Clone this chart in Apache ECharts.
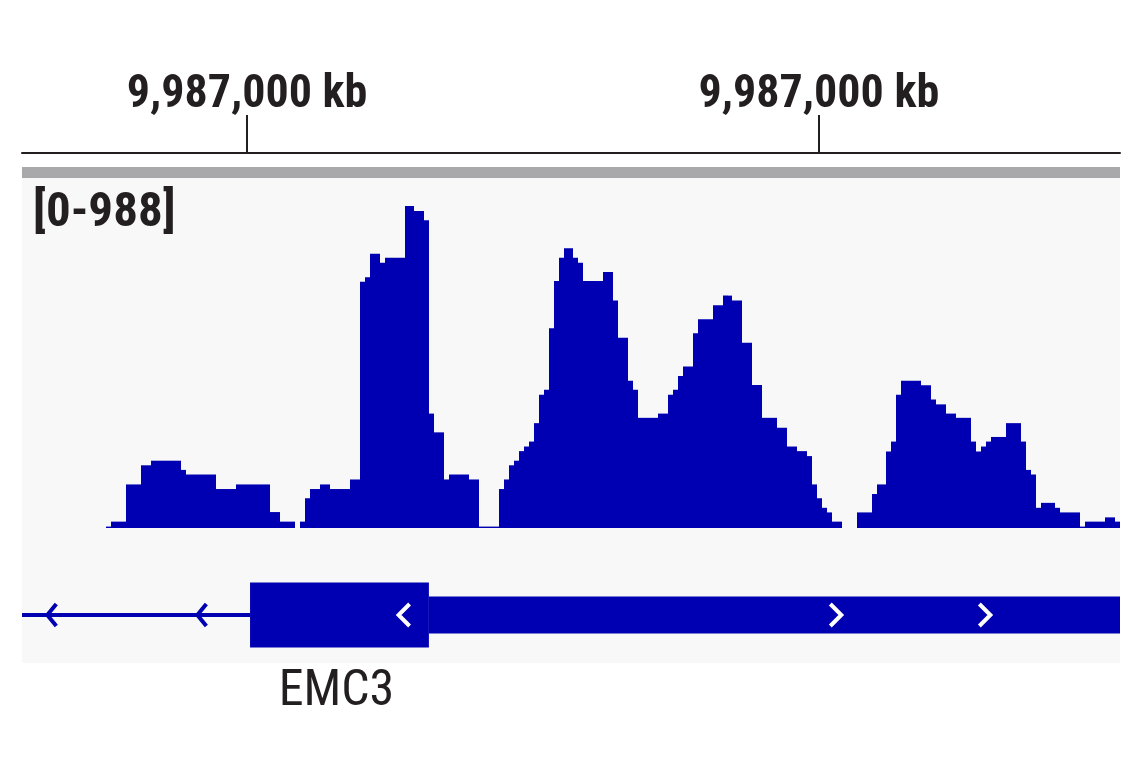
<!DOCTYPE html>
<html>
<head>
<meta charset="utf-8">
<script src="https://cdn.jsdelivr.net/npm/echarts@6/dist/echarts.min.js"></script>
<style>
  html, body { margin: 0; padding: 0; background: #ffffff; }
  #chart { width: 1141px; height: 768px; }
</style>
</head>
<body>
<div id="chart"></div>
<script>
// ---- data ----
// coverage per genomic bin (221 bins across the view), data range 0-988
const yRange = [0, 988];
const binCount = 221;
const coverage = [
  0,0,0,0,0,0,0,0,0,0, 0,0,0,0,0,0,0,4,18,18,
  18,123,123,123,177,177,190,190,190,190, 190,190,164,151,151,151,151,151,151,110,
  110,110,110,123,123,123,123,123,123,123, 45,45,18,18,18,0,18,84,110,110,
  123,123,110,110,110,110,137,137,695,708, 774,774,749,763,763,763,763,909,909,895,
  895,869,323,270,270,137,151,151,151,151, 137,137,4,4,4,4,110,137,177,190,
  217,230,244,296,376,390,564,697,763,790, 790,763,749,697,697,697,697,723,723,642,
  537,537,416,390,311,311,311,311,323,323, 376,390,429,456,456,550,589,589,589,629,
  629,656,656,642,642,523,523,404,404,311, 311,311,283,283,230,230,217,217,203,123,
  84,57,44,18,18,0,0,0,44,44, 44,96,123,123,216,244,376,416,416,416,
  416,403,403,363,349,349,323,323,311,311, 311,244,216,230,244,257,257,257,296,296,
  296,244,164,151,57,71,71,71,57,44, 44,44,44,4,18,18,18,18,30,30,
  18
];
// ruler ticks (bin positions) and their labels
const rulerTicks = [45.3, 160.4];
const rulerLabels = ['9,987,000 kb', '9,987,000 kb'];
// gene model: [start bin, end bin, kind] kind: 0 intron, 1 coding exon, 2 UTR
const geneName = 'EMC3';
const geneSegments = [
  [0, 45.9, 0],
  [45.9, 81.9, 1],
  [81.9, 221, 2]
];
// strand arrows: [bin position, direction (-1 left, 1 right)]
const geneArrows = [
  [6.0, -1], [36.2, -1], [76.9, -1], [163.8, 1], [193.8, 1]
];

// ---- styles ----
const BLUE = '#0000b2';
const TEXT = '#231f20';
const FONT = "'Liberation Sans Narrow', 'Arial Narrow', 'Roboto Condensed', 'DejaVu Sans Condensed', sans-serif";
const L = 22, W = 1098;

const covData = coverage.map((v, i) => [i, v]);

function renderCoverage(params, api) {
  const i = api.value(0), v = api.value(1);
  if (!v) return null;
  const p0 = api.coord([i, v]);
  const p1 = api.coord([i + 1, 0]);
  const x0 = Math.round(p0[0]), x1 = Math.round(p1[0]);
  return {
    type: 'rect',
    shape: { x: x0, y: p0[1], width: x1 - x0, height: p1[1] - p0[1] },
    style: { fill: BLUE }
  };
}

function renderGene(params, api) {
  const s = api.value(0), e = api.value(1), kind = api.value(2);
  const a = api.coord([s, 0.5]);
  const b = api.coord([e, 0.5]);
  const cy = a[1];
  const half = kind === 0 ? 2 : (kind === 1 ? 32.5 : 18.5);
  const children = [{
    type: 'rect',
    shape: { x: a[0], y: cy - half, width: b[0] - a[0], height: half * 2 },
    style: { fill: BLUE }
  }];
  if (kind === 1) {
    children.push({
      type: 'text',
      style: {
        text: geneName, x: (a[0] + b[0]) / 2 - 3, y: cy + 52,
        align: 'center', verticalAlign: 'top',
        fontFamily: FONT, fontSize: 50, fill: TEXT
      }
    });
  }
  return { type: 'group', children: children };
}

function renderArrow(params, api) {
  const pos = api.value(0), dir = api.value(1);
  const seg = geneSegments.find(g => pos >= g[0] && pos < g[1]);
  const onIntron = !seg || seg[2] === 0;
  const c = api.coord([pos, 0.5]);
  const w = onIntron ? 9 : 11, h = 11;
  const tipX = c[0] + dir * w / 2, armX = c[0] - dir * w / 2;
  return {
    type: 'polyline',
    shape: { points: [[armX, c[1] - h], [tipX, c[1]], [armX, c[1] + h]] },
    style: { stroke: onIntron ? BLUE : '#ffffff', lineWidth: 4, fill: null, lineJoin: 'miter' }
  };
}

const chart = echarts.init(document.getElementById('chart'), null, { renderer: 'canvas' });
chart.setOption({
  animation: false,
  backgroundColor: '#ffffff',
  title: {
    text: '[' + yRange[0] + '-' + yRange[1] + ']',
    left: 28, top: 184,
    textStyle: { fontFamily: FONT, fontSize: 49, fontWeight: 'bold', color: TEXT }
  },
  graphic: [
    { type: 'rect', z: -10, shape: { x: L, y: 178, width: W, height: 485 }, style: { fill: '#f8f8f9' } },
    { type: 'rect', z: -10, shape: { x: L, y: 167, width: W, height: 11 }, style: { fill: '#a9a9ab' } }
  ],
  grid: [
    { left: L, width: W, top: 153, height: 10 },
    { left: L, width: W, top: 178, height: 350 },
    { left: L, width: W, top: 575, height: 80 }
  ],
  xAxis: [
    {
      gridIndex: 0, type: 'value', position: 'top', min: 0, max: binCount,
      axisLine: { show: true, onZero: false, lineStyle: { color: TEXT, width: 2 } },
      axisTick: { show: true, customValues: rulerTicks, length: 38, lineStyle: { color: TEXT, width: 2 } },
      axisLabel: {
        show: true, customValues: rulerTicks, margin: 35,
        formatter: v => rulerLabels[rulerTicks.indexOf(v)] || '',
        fontFamily: FONT, fontSize: 46, fontWeight: 'bold', color: TEXT
      },
      splitLine: { show: false }
    },
    { gridIndex: 1, type: 'value', min: 0, max: binCount, show: false },
    { gridIndex: 2, type: 'value', min: 0, max: binCount, show: false }
  ],
  yAxis: [
    { gridIndex: 0, type: 'value', min: 0, max: 1, show: false },
    { gridIndex: 1, type: 'value', min: yRange[0], max: yRange[1], show: false },
    { gridIndex: 2, type: 'value', min: 0, max: 1, show: false }
  ],
  series: [
    { type: 'custom', xAxisIndex: 1, yAxisIndex: 1, data: covData, renderItem: renderCoverage, clip: false },
    { type: 'custom', xAxisIndex: 2, yAxisIndex: 2, data: geneSegments, renderItem: renderGene, clip: false },
    { type: 'custom', xAxisIndex: 2, yAxisIndex: 2, data: geneArrows, renderItem: renderArrow, clip: false, z: 5 }
  ]
});
</script>
</body>
</html>
